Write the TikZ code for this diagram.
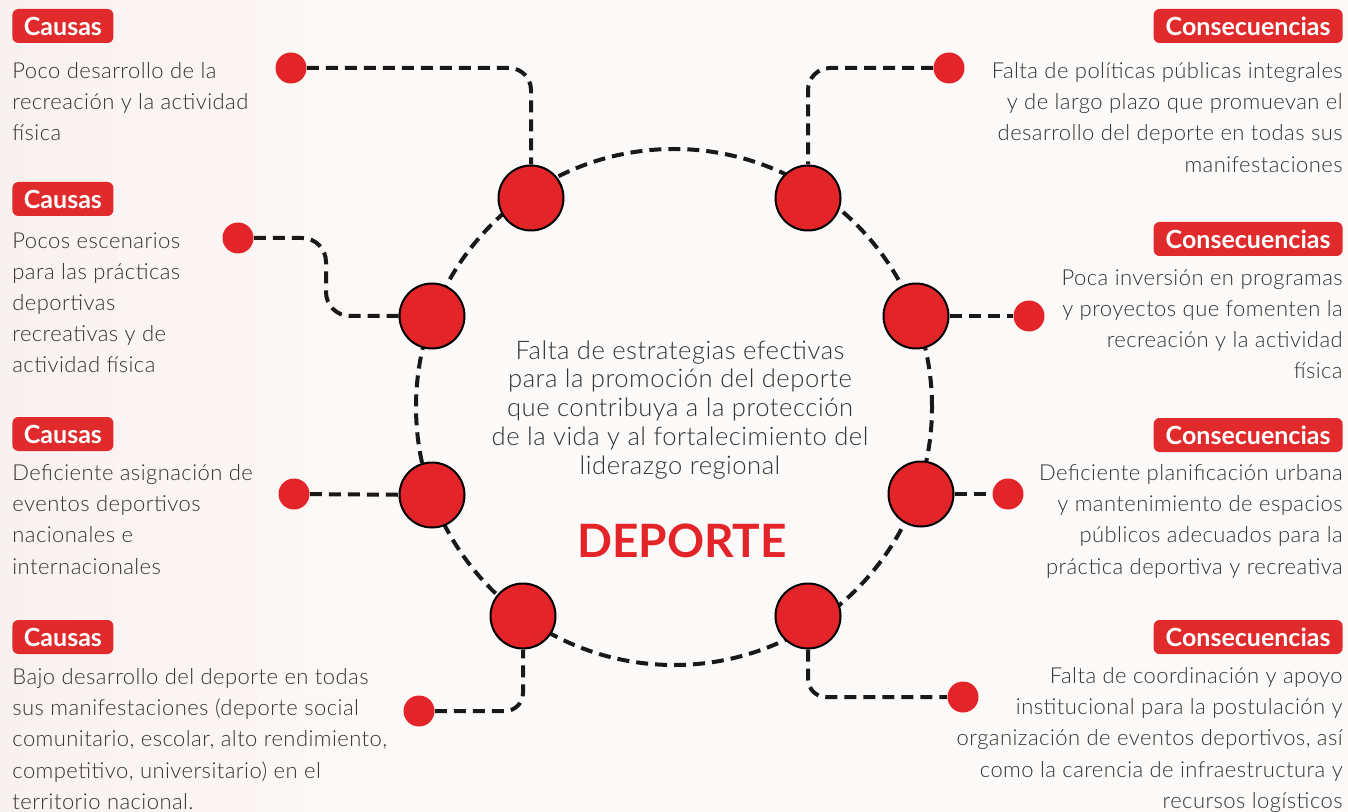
\documentclass[tikz,border=0pt]{standalone}
\usepackage{fontspec}
\setmainfont{Lato}
\newfontfamily\lightfont{Lato Light}[LetterSpace=2]
\definecolor{bgc}{HTML}{FCFAF8}
\definecolor{bgl}{HTML}{F9F1EF}
\definecolor{dotred}{HTML}{E3252A}
\definecolor{tagred}{HTML}{E02A2B}
\definecolor{txt}{HTML}{333333}
\pgfdeclarelayer{background}
\pgfsetlayers{background,main}
\begin{document}
\begin{tikzpicture}[x=0.5pt,y=-0.5pt,
  bigdot/.style={circle, fill=dotred, draw=black, line width=1pt, minimum size=32.5pt, inner sep=0pt},
  smalldot/.style={circle, fill=dotred, minimum size=15.5pt, inner sep=0pt},
  dashline/.style={line width=2pt, dash pattern=on 6pt off 3.5pt, draw=black!90},
  tag/.style={fill=tagred, rounded corners=3pt, text=white, font=\bfseries\fontsize{12.5}{14}\selectfont, minimum height=17pt, inner sep=0pt},
  causatag/.style={tag, minimum width=50.5pt, anchor=west},
  consetag/.style={tag, minimum width=94.5pt, anchor=east},
  ltext/.style={text=txt, font=\lightfont\fontsize{11}{15.6}\selectfont, align=left, anchor=north west, inner sep=0pt},
  rtext/.style={text=txt, font=\lightfont\fontsize{11}{15.6}\selectfont, align=right, anchor=north east, inner sep=0pt},
  ctext/.style={text=txt, font=\lightfont\fontsize{12.8}{14.4}\selectfont, align=center, anchor=north, inner sep=0pt}
]
\useasboundingbox (0,0) rectangle (1348,812);

% big dots on the ring
\node[bigdot] (b1) at (531,198) {};
\node[bigdot] (b2) at (432,316) {};
\node[bigdot] (b3) at (432,495) {};
\node[bigdot] (b4) at (523,616) {};
\node[bigdot] (b5) at (808,198) {};
\node[bigdot] (b6) at (916,316) {};
\node[bigdot] (b7) at (921,494) {};
\node[bigdot] (b8) at (808,616) {};
% small dots
\node[smalldot] (s1) at (291,68) {};
\node[smalldot] (s2) at (238,238) {};
\node[smalldot] (s3) at (294,494) {};
\node[smalldot] (s4) at (419,711) {};
\node[smalldot] (s5) at (949,68) {};
\node[smalldot] (s6) at (1029,316) {};
\node[smalldot] (s7) at (1008,494) {};
\node[smalldot] (s8) at (963,697) {};
\node (ring) at (674,407) {};
\coordinate (k2a) at (326,238);
\coordinate (k2b) at (326,316);

\begin{pgfonlayer}{background}
\fill[bgc] (0,0) rectangle (1348,812);
\shade[left color=bgl, right color=bgc] (0,0) rectangle (420,812);
\draw[dashline] (ring.center) circle[radius=129pt];
\draw[dashline, rounded corners=11pt] (s1) -- (s1 -| b1) -- (b1);
\draw[dashline, rounded corners=12pt] (s2) -- (k2a) -- (k2b) -- (b2);
\draw[dashline] (s3) -- (b3);
\draw[dashline, rounded corners=9pt] (s4) -- (s4 -| b4) -- (b4);
\draw[dashline, rounded corners=11pt] (s5) -- (s5 -| b5) -- (b5);
\draw[dashline] (b6) -- (s6);
\draw[dashline] (b7) -- (s7);
\draw[dashline, rounded corners=9pt] (b8) -- (b8 |- s8) -- (s8);
\end{pgfonlayer}

% tags
\node[causatag] (c1) at (12,26) {Causas};
\node[causatag] (c2) at (12,199) {Causas};
\node[causatag] (c3) at (12,434) {Causas};
\node[causatag] (c4) at (12,637) {Causas};
\node[consetag] (q1) at (1343,26) {Consecuencias};
\node[consetag] (q2) at (1343,239) {Consecuencias};
\node[consetag] (q3) at (1343,435) {Consecuencias};
\node[consetag] (q4) at (1343,637) {Consecuencias};

% left texts
\node[ltext] (t1) at (12,62) {Poco desarrollo de la\\recreación y la actividad\\física};
\node[ltext] (t2) at (12,232) {Pocos escenarios\\para las prácticas\\deportivas\\recreativas y de\\actividad física};
\node[ltext] (t3) at (12,464) {Deficiente asignación de\\eventos deportivos\\nacionales e\\internacionales};
\node[ltext] (t4) at (12,668) {Bajo desarrollo del deporte en todas\\sus manifestaciones (deporte social\\comunitario, escolar, alto rendimiento,\\competitivo, universitario) en el\\territorio nacional.};
% right texts
\node[rtext] (r1) at (1343,62) {Falta de políticas públicas integrales\\y de largo plazo que promuevan el\\desarrollo del deporte en todas sus\\manifestaciones};
\node[rtext] (r2) at (1343,269) {Poca inversión en programas\\y proyectos que fomenten la\\recreación y la actividad\\física};
\node[rtext] (r3) at (1343,464) {Deficiente planificación urbana\\y mantenimiento de espacios\\públicos adecuados para la\\práctica deportiva y recreativa};
\node[rtext] (r4) at (1343,667) {Falta de coordinación y apoyo\\institucional para la postulación y\\organización de eventos deportivos, así\\como la carencia de infraestructura y\\recursos logísticos};

% center
\node[ctext] (ct) at (680,340) {Falta de estrategias efectivas\\para la promoción del deporte\\que contribuya a la protección\\de la vida y al fortalecimiento del\\liderazgo regional};
\node[text=dotred, font=\bfseries\fontsize{23}{28}\selectfont, inner sep=0pt] (dep) at (682,541) {DEPORTE};
\end{tikzpicture}
\end{document}
